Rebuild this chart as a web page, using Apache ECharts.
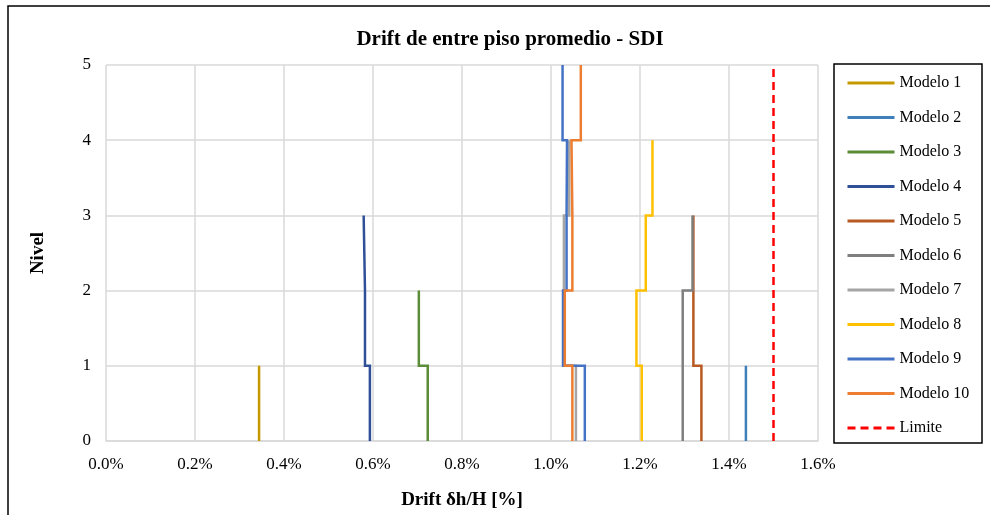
<!DOCTYPE html>
<html>
<head>
<meta charset="utf-8">
<script src="https://cdn.jsdelivr.net/npm/echarts@6/dist/echarts.min.js"></script>
<style>
  html, body { margin: 0; padding: 0; background: #fff; }
  #chart { width: 995px; height: 515px; }
</style>
</head>
<body>
<div id="chart"></div>
<script>
// Inter-storey drift (%) per storey, from storey 1 upward
const modelo1 = [0.344];
const modelo2 = [1.438];
const modelo3 = [0.723, 0.703];
const modelo4 = [0.593, 0.582, 0.579];
const modelo5 = [1.338, 1.320, 1.320];
const modelo6 = [1.296, 1.296, 1.318];
const modelo7 = [1.056, 1.029, 1.029, 1.041];
const modelo8 = [1.204, 1.192, 1.213, 1.228];
const modelo9 = [1.076, 1.027, 1.035, 1.036, 1.026];
const modelo10 = [1.048, 1.031, 1.048, 1.046, 1.067];
const limite = 1.5;

const seriesNames = ['Modelo 1', 'Modelo 2', 'Modelo 3', 'Modelo 4', 'Modelo 5',
  'Modelo 6', 'Modelo 7', 'Modelo 8', 'Modelo 9', 'Modelo 10'];
const seriesData = [modelo1, modelo2, modelo3, modelo4, modelo5,
  modelo6, modelo7, modelo8, modelo9, modelo10];
const seriesColors = ['#C59A00', '#3F7FBA', '#5B8C37', '#2F4F99', '#B85A22',
  '#7F7F7F', '#A5A5A5', '#FFC000', '#4472C4', '#ED7D31'];

const levelTicks = [0, 1, 2, 3, 4, 5];
const xTicks = [0, 0.2, 0.4, 0.6, 0.8, 1.0, 1.2, 1.4, 1.6];

// Each storey's drift is a vertical segment from floor i-1 to floor i,
// joined horizontally at each floor to the next storey's drift.
function stepPoints(drifts) {
  const pts = [];
  drifts.forEach((d, i) => {
    pts.push([d, i]);
    pts.push([d, i + 1]);
  });
  return pts;
}

const serif = '"Liberation Serif", "Times New Roman", serif';

const series = seriesNames.map((name, k) => ({
  name: name,
  type: 'line',
  data: stepPoints(seriesData[k]),
  showSymbol: false,
  symbol: 'none',
  color: seriesColors[k],
  lineStyle: { width: 2.5, color: seriesColors[k], cap: 'butt', join: 'miter' },
  animation: false
}));

series.push({
  name: 'Limite',
  type: 'line',
  data: [[limite, levelTicks[0]], [limite, levelTicks[levelTicks.length - 1]]],
  showSymbol: false,
  symbol: 'none',
  color: '#FF0000',
  lineStyle: { width: 2.5, color: '#FF0000', type: [8, 5] },
  animation: false
});

const chart = echarts.init(document.getElementById('chart'), null, { renderer: 'canvas' });
chart.setOption({
  animation: false,
  backgroundColor: '#ffffff',
  title: {
    text: 'Drift de entre piso promedio - SDI',
    left: 505,
    top: 24,
    textAlign: 'center',
    textStyle: { fontFamily: serif, fontWeight: 'bold', fontSize: 21, color: '#000' }
  },
  grid: { left: 106, top: 65, width: 712, height: 376, containLabel: false },
  xAxis: {
    type: 'value',
    min: 0,
    max: 1.6,
    interval: 0.2,
    name: 'Drift δh/H [%]',
    nameLocation: 'middle',
    nameGap: 50,
    nameTextStyle: { fontFamily: serif, fontWeight: 'bold', fontSize: 19, color: '#000' },
    axisLine: { show: true, lineStyle: { color: '#D9D9D9', width: 1.5 } },
    axisTick: { show: false },
    axisLabel: {
      fontFamily: serif, fontSize: 17, color: '#000', margin: 15,
      formatter: v => v.toFixed(1) + '%'
    },
    splitLine: { show: true, lineStyle: { color: '#D9D9D9', width: 1.5 } }
  },
  yAxis: {
    type: 'value',
    min: 0,
    max: 5,
    interval: 1,
    name: 'Nivel',
    nameLocation: 'middle',
    nameGap: 58,
    nameRotate: 90,
    nameTextStyle: { fontFamily: serif, fontWeight: 'bold', fontSize: 19, color: '#000' },
    axisLine: { show: false },
    axisTick: { show: false },
    axisLabel: { fontFamily: serif, fontSize: 17, color: '#000', margin: 15 },
    splitLine: { show: true, lineStyle: { color: '#D9D9D9', width: 1.5 } }
  },
  legend: {
    orient: 'vertical',
    left: 846,
    top: 75,
    padding: 0,
    itemWidth: 47,
    itemHeight: 14,
    itemGap: 18.5,
    itemStyle: { opacity: 0 },
    lineStyle: { width: 3 },
    textStyle: { fontFamily: serif, fontSize: 16, color: '#000' },
    data: seriesNames.concat(['Limite'])
  },
  graphic: [
    {
      type: 'polyline',
      shape: { points: [[8, 520], [8, 6], [990, 6]] },
      style: { stroke: '#000', lineWidth: 1.5, fill: null },
      silent: true
    },
    {
      type: 'rect',
      shape: { x: 834, y: 64, width: 148, height: 379 },
      style: { stroke: '#000', lineWidth: 1.5, fill: null },
      silent: true
    }
  ],
  series: series
});
</script>
</body>
</html>
